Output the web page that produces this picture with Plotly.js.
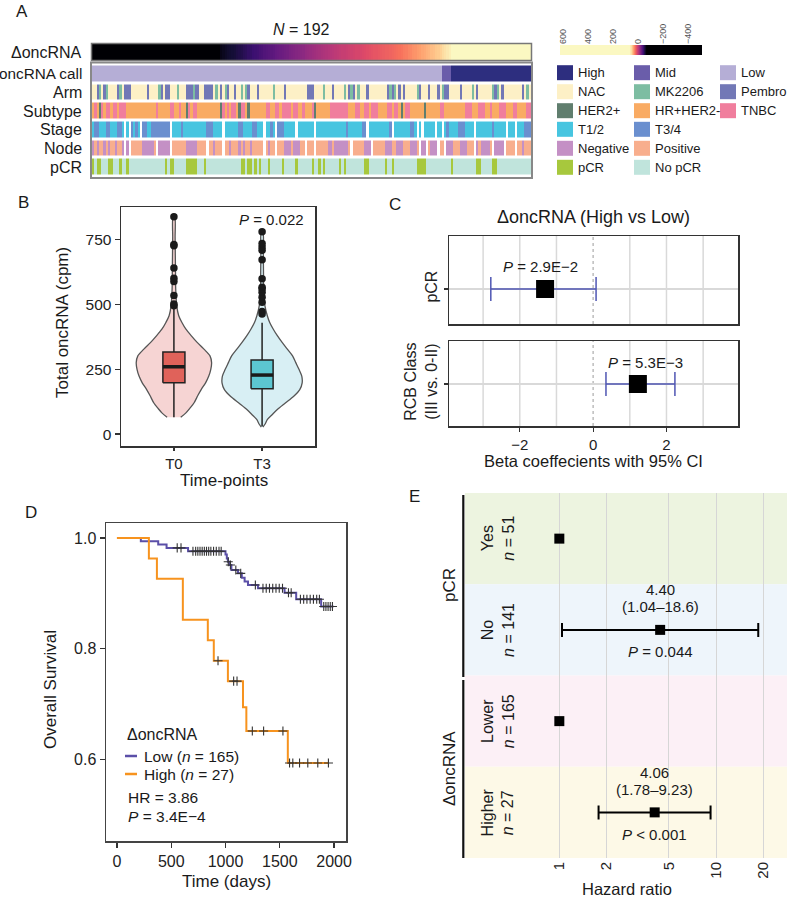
<!DOCTYPE html>
<html><head><meta charset="utf-8">
<script src="https://cdn.plot.ly/plotly-3.0.1.min.js"></script>
<style>html,body{margin:0;padding:0;background:#fff}#chart{width:787px;height:900px}</style>
</head><body><div id="chart"></div>
<script>
// ================= DATA =================
// Panel A: ΔoncRNA per sample (sorted), 192 samples
const deltaOnc = [
-512,-455,-410,-372,-340,-318,-297,-280,-265,-251,-238,-226,-215,-205,-196,-188,
-180,-173,-166,-160,-154,-149,-144,-139,-135,-131,-127,-123,-120,-117,-114,-111,
-108,-105,-103,-101,-99,-97,-95,-93,-91,-89,-87,-85,-84,-82,-81,-79,
-78,-76,-75,-73,-72,-71,-69,-67,
-60,-58,-56,-54,-53,
-52,-51,-49,-48,-47,-45,-44,-42,-41,-39,-38,-37,-35,-34,-32,
-31,-30,-29,-28,-26,-25,-24,-23,-22,-21,-19,-18,-17,-16,-15,-14,-13,-11,-10,-9,-8,-7,
-6,-5,-4,-3,-2,-1,0,1,2,3,4,5,5,6,7,8,9,10,10,11,12,13,14,
15,16,17,17,18,19,20,21,21,22,23,24,25,26,
27,29,30,32,33,35,36,38,
39,41,42,44,45,47,48,50,51,53,
56,58,60,62,
68,72,77,82,87,93,99,105,112,119,126,134,142,151,160,170,180,191,203,215,228,242,257,272,289,306,325,345,367,390,415,445,480,525,590];

// annotation rows, one char per sample ('_' = missing)
const callRow = ["LLLLLLLLLLLLLLLL","LLLLLLLLLLLLLLLL","LLLLLLLLLLLLLLLL","LLLLLLLLLLLLLLLL","LLLLLLLLLLLLLLLL","LLLLLLLLLLLLLLLL","LLLLLLLLLLLLLLLL","LLLLLLLLLLLLLLLL","LLLLLLLLLLLLLLLL","LLLLLLLLLMMMMHHH","HHHHHHHHHHHHHHHH","HHHHHHHHHHHHHHHH"];
const armRow = ["nnpmnpmnnnnpmnpp","pnnnnnnnpnnnnmpn","ppnnnmnnnpppmppn","nppppnmnpnmpnnpn","nmnmpnnnpnnnnnnm","nnnnpnnnnnnnnnpp","pnnnnmnnnpnnnnmn","pmpnmnnnpnnnnnnn","npmpmnpnpnnnnnmp","nnnpnnnpnmppnnnn","npnnnnmnpnnnnnnm","pmnpnnnnnnnnpnmn"];
const subtypeRow = ["rtrhtrttrttrtttr","rrrrrrrrrrrrtrrr","rrttrrtrrhtrttrr","rrrrrrrrhtrtrttr","httrhrrrrrrrttrr","ttrttttrttrrtrrr","thrrrrrrtttttttt","rrrttrrttrtttrrr","rttrttrhrttrrrrr","rhrrrrrrttrrrrrr","rrrtttrrrtttrrtr","rrtttrrrttrrrrtt"];
const stageRow = ["sbbsssbbsssbbs_s","_bsbs_bbssbbbbbb","bb_ssssbssssssss","ssbbbssss_ssssss","bbssssbbsss_ssbs","_bbbsssss_ssssss","s_sssssssssssssb","ssssssbb_sssssss","ssb_sssssssbbs_s","_sssss_ss_sbssss","bbbssss_sssssssb","sssss_sss_sssbbb"];
const nodeRow = ["gogoogogoogoog_g","_ooooogggggo_ggg","gg_oooooogggggoo","oo_oogooo_oogooo","gogoogooooo_ogoo","_ooogggogggoo_oo","o_oooooggogggggg","o_oooooggg_ooooo","gggoogggooogggo_","gg_oggg_oo_gggoo","ogggooo_goggggo_","gggg_oooo_oogooo"];
const pcrRow = ["ynyynnnyynnnynny","nnnnnnnnnnnnnnnn","ynyynnnnnyyyyynn","nynnnnnnnnnnnnnn","nyynyynynynnnynn","nnnynnnnnynnnnnn","ynnynynnnnnnynyn","nnnnnnnyynnnnnnn","ynnynnnnnnnnnnyy","yynnnnnnnnnnnynn","nnnnnnnnyynnnnny","ynnnnnnnnnnnnnnn"];
const rowLabels = ["ΔoncRNA","oncRNA call","Arm","Subtype","Stage","Node","pCR"];
const catNames = ["Low","Mid","High","NAC","MK2206","Pembro","HER2+","HR+HER2-","TNBC","T1/2","T3/4","Negative","Positive","pCR","No pCR"];
const catColors = ["#B5AED6","#6A5DAA","#2D2E7F","#FDF0C6","#7DBDA2","#7278B6","#607E6E","#F9AB63","#F07E9D","#47C5E0","#6A8FCF","#C490C5","#F8AE8D","#A7C83D","#C0E4DC"];
const rowCodeMaps = [{L:0,M:1,H:2},{n:3,m:4,p:5},{h:6,r:7,t:8},{s:9,b:10},{g:11,o:12},{y:13,n:14}];
const legendGrid = [[2,1,0],[3,4,5],[6,7,8],[9,10],[11,12],[13,14]];
const cbTicks = [600,400,200,0,-200,-400];
const cbTickText = ["600","400","200","0","−200","−400"];

// Panel B: violin outlines (value, relative width), box stats, outliers
const bCats = ["T0","T3"];
const violinVals = [
  [65,82,100,120,150,172,198,224,250,276,302,328,354,380,405,431,457,496,560,625,690,760,839],
  [27,40,56,75,95,120,146,172,198,224,250,276,302,328,354,380,405,431,457,496,560,625,700,781]];
const violinDens = [
  [0.17,0.30,0.40,0.50,0.60,0.68,0.79,0.87,0.92,0.94,0.90,0.75,0.58,0.43,0.30,0.20,0.12,0.07,0.045,0.04,0.035,0.03,0.02],
  [0.02,0.08,0.13,0.25,0.38,0.58,0.79,0.94,1.0,0.99,0.92,0.84,0.76,0.63,0.50,0.38,0.28,0.19,0.13,0.07,0.04,0.035,0.03,0.02]];
const boxQ1 = [198,175], boxMed = [260,228], boxQ3 = [317,286], boxLo = [65,30], boxHi = [495,430];
const outliers = [[496,502,535,589,602,641,727,732,839],[464,473,509,528,548,561,567,600,673,710,723,736,781]];

// Panel C: logistic regression betas
const cRows = ["pCR","RCB Class<br>(III vs. 0-II)"];
const cBeta = [-1.31, 1.22], cLo = [-2.79, 0.35], cHi = [0.08, 2.23];
const cP = ["2.9E−2","5.3E−3"];
const cGrid = [-3,-2,-1,1,2,3];

// Panel D: Kaplan–Meier
const lowT = [0,220,380,457,655,1000,1012,1022,1035,1054,1115,1150,1176,1207,1299,1544,1651,1881,1995];
const lowS = [1,0.994,0.988,0.982,0.976,0.970,0.963,0.957,0.951,0.942,0.936,0.928,0.921,0.915,0.909,0.901,0.889,0.876,0.876];
const lowCens = [555,590,700,725,745,765,785,805,825,845,865,890,915,940,960,1025,1045,1095,1140,1275,1345,1375,1405,1435,1465,1495,1525,1580,1605,1690,1720,1750,1780,1810,1840,1865,1905,1925,1945,1965,1985];
const highT = [0,294,368,607,837,892,1022,1161,1192,1574,1948];
const highS = [1,0.963,0.926,0.852,0.815,0.778,0.741,0.694,0.651,0.593,0.593];
const highCens = [931,1075,1106,1247,1351,1529,1590,1620,1682,1758,1850,1948];

// Panel E: Cox forest
const eGroups = ["pCR","ΔoncRNA"];
const eRows = ["Yes","No","Lower","Higher"];
const eN = [51,141,165,27];
const eHR = [1,4.40,1,4.06];
const eLo = [null,1.04,null,1.78];
const eHi = [null,18.6,null,9.23];
const eP = ["","= 0.044","","< 0.001"];
const eBand = ["#EDF4E0","#EEF5FB","#FCF0F6","#FDF9E7"];

// ================= HELPERS =================
const FONT = "Liberation Sans, Arial, Helvetica, sans-serif";
const W = 787, H = 900;
const fx = p => p / W, fy = p => 1 - p / H;
const dX = (a, b) => [fx(a), fx(b)];
const dY = (top, bot) => [fy(bot), fy(top)];
const TXT = "#1a1a1a";
function ann(text, x, y, o) {
  o = o || {};
  return Object.assign({text, x: fx(x), y: fy(y), xref: "paper", yref: "paper", showarrow: false,
    font: {family: FONT, size: o.size || 15, color: o.color || TXT},
    xanchor: o.xa || "center", yanchor: o.ya || "middle", textangle: o.angle || 0}, o.extra || {});
}
function bare(domain, extra) {
  return Object.assign({domain, showgrid: false, zeroline: false, showline: false, ticks: "",
    showticklabels: false, fixedrange: true, automargin: false}, extra || {});
}
const magma = [[0,"#000004"],[0.1,"#140e36"],[0.2,"#3b0f70"],[0.3,"#641a80"],[0.4,"#8c2981"],[0.5,"#b73779"],[0.6,"#de4968"],[0.7,"#f7705c"],[0.8,"#fe9f6d"],[0.9,"#fecf92"],[1,"#fbf8c2"]];
const ZMIN = -65, ZMAX = 65;

const traces = [], shapes = [], annotations = [];

// ================= PANEL A =================
const nS = deltaOnc.length;
const cols = deltaOnc.map((_, i) => i);
traces.push({type: "heatmap", z: [deltaOnc], x: cols, y: [0], colorscale: magma, zmin: ZMIN, zmax: ZMAX,
  showscale: false, hoverinfo: "skip", xaxis: "x", yaxis: "y"});
const annRows = [callRow, armRow, subtypeRow, stageRow, nodeRow, pcrRow];
const zAnn = annRows.map((r, k) => r.join("").split("").map(ch => ch === "_" ? null : rowCodeMaps[k][ch]));
const NC = catColors.length;
const disc = [];
catColors.forEach((c, i) => { disc.push([i / NC, c]); disc.push([(i + 1) / NC, c]); });
traces.push({type: "heatmap", z: zAnn, x: cols, y: [0,1,2,3,4,5], colorscale: disc, zmin: -0.5, zmax: NC - 0.5,
  showscale: false, ygap: 3, hoverinfo: "skip", xaxis: "x2", yaxis: "y2"});
// gradient key strip
const cbX = [];
for (let v = 624; v >= -512; v -= 4) cbX.push(v);
traces.push({type: "heatmap", z: [cbX], x: cbX, y: [0], colorscale: magma, zmin: ZMIN, zmax: ZMAX,
  showscale: false, hoverinfo: "skip", xaxis: "x3", yaxis: "y3"});

shapes.push({type: "rect", xref: "paper", yref: "paper", x0: fx(91.5), x1: fx(531.5), y0: fy(43.5), y1: fy(60.5), line: {color: "#777", width: 1.5}});
shapes.push({type: "rect", xref: "paper", yref: "paper", x0: fx(91), x1: fx(532), y0: fy(62.5), y1: fy(178), line: {color: "#888", width: 2}});

annotations.push(ann("A", 22, 11, {size: 17}));
annotations.push(ann("<i>N</i> = 192", 301, 30, {size: 16}));
const rowY = [52, 73.8, 92.5, 111.2, 129.8, 148.5, 167.2];
rowLabels.forEach((t, i) => annotations.push(ann(t, 84, rowY[i], {size: t.length > 10 ? 15.3 : 16, xa: "right"})));
const legX = [557, 634, 720], legY = [72.7, 91.7, 110.7, 129.3, 148.3, 167.3];
legendGrid.forEach((row, r) => row.forEach((code, c) => {
  shapes.push({type: "rect", xref: "paper", yref: "paper", x0: fx(legX[c]), x1: fx(legX[c] + 16),
    y0: fy(legY[r] + 7.5), y1: fy(legY[r] - 7.5), fillcolor: catColors[code], line: {width: 0}});
  annotations.push(ann(catNames[code], legX[c] + 19, legY[r], {size: 13, xa: "left"}));
}));

// ================= PANEL B =================
const VW = 40 / 88, BW = 0.125;
const vFill = ["#F6D4D3", "#D8EFF4"], bFill = ["#E0625A", "#5CC6D1"];
bCats.forEach((cat, c) => {
  const v = violinVals[c], d = violinDens[c];
  const xs = v.map((_, i) => c + d[i] * VW).concat(v.slice().reverse().map((_, i) => c - d[v.length - 1 - i] * VW));
  const ys = v.concat(v.slice().reverse());
  traces.push({type: "scatter", mode: "lines", x: xs, y: ys, fill: "toself", fillcolor: vFill[c],
    line: {color: "#555", width: 1.3, shape: "spline", smoothing: 0.8}, hoverinfo: "skip", xaxis: "x4", yaxis: "y4"});
});
bCats.forEach((cat, c) => {
  traces.push({type: "scatter", mode: "lines", x: [c, c, null, c, c], y: [boxQ3[c], boxHi[c], null, boxQ1[c], boxLo[c]],
    line: {color: "#222", width: 1.5}, hoverinfo: "skip", xaxis: "x4", yaxis: "y4"});
  traces.push({type: "scatter", mode: "lines", x: [c - BW, c + BW, c + BW, c - BW, c - BW],
    y: [boxQ1[c], boxQ1[c], boxQ3[c], boxQ3[c], boxQ1[c]], fill: "toself", fillcolor: bFill[c],
    line: {color: "#222", width: 1.5}, hoverinfo: "skip", xaxis: "x4", yaxis: "y4"});
  traces.push({type: "scatter", mode: "lines", x: [c - BW, c + BW], y: [boxMed[c], boxMed[c]],
    line: {color: "#1a1a1a", width: 3.5}, hoverinfo: "skip", xaxis: "x4", yaxis: "y4"});
  traces.push({type: "scatter", mode: "markers", x: outliers[c].map(() => c), y: outliers[c],
    marker: {color: "#1a1a1a", size: 7.5}, hoverinfo: "skip", xaxis: "x4", yaxis: "y4"});
});
annotations.push(ann("B", 23, 202, {size: 17}));
annotations.push(ann("<i>P</i> = 0.022", 306, 219, {size: 15, xa: "right"}));
annotations.push(ann("Total oncRNA (cpm)", 63, 323, {size: 17, angle: -90}));
annotations.push(ann("Time-points", 224, 480, {size: 17}));

// ================= PANEL C =================
cRows.forEach((r, i) => {
  const xa = i === 0 ? "x5" : "x6", ya = i === 0 ? "y5" : "y6";
  cGrid.forEach(g => shapes.push({type: "line", xref: xa, yref: ya + " domain", x0: g, x1: g, y0: 0, y1: 1,
    line: {color: "#D9D9D9", width: 1.5}, layer: "below"}));
  shapes.push({type: "line", xref: xa, yref: ya + " domain", x0: 0, x1: 0, y0: 0, y1: 1,
    line: {color: "#BDBDBD", width: 1.5, dash: "dot"}, layer: "below"});
  traces.push({type: "scatter", mode: "markers", x: [cBeta[i]], y: [0],
    marker: {symbol: "square", size: 18, color: "#000"},
    error_x: {type: "data", symmetric: false, array: [cHi[i] - cBeta[i]], arrayminus: [cBeta[i] - cLo[i]],
      color: "#4F56B3", thickness: 1.5, width: 12},
    hoverinfo: "skip", xaxis: xa, yaxis: ya});
  annotations.push({text: "<i>P</i> = " + cP[i], x: cBeta[i], y: i === 0 ? 0.26 : 0.25, xref: xa, yref: ya,
    showarrow: false, xshift: i === 0 ? -5 : 8, font: {family: FONT, size: 15, color: TXT}});
});
annotations.push(ann("C", 395, 205, {size: 17}));
annotations.push(ann("ΔoncRNA (High vs Low)", 593, 217, {size: 18}));
annotations.push(ann("Beta coeffecients with 95% CI", 593, 461, {size: 16.5}));

// ================= PANEL D =================
function survAt(T, S, t) { let s = S[0]; for (let i = 0; i < T.length; i++) if (T[i] <= t) s = S[i]; return s; }
traces.push({type: "scatter", mode: "lines", x: lowT, y: lowS, line: {color: "#5B4FA8", width: 2, shape: "hv"},
  hoverinfo: "skip", xaxis: "x7", yaxis: "y7"});
traces.push({type: "scatter", mode: "lines", x: highT, y: highS, line: {color: "#F7931E", width: 2, shape: "hv"},
  hoverinfo: "skip", xaxis: "x7", yaxis: "y7"});
traces.push({type: "scatter", mode: "markers", x: lowCens.concat(highCens),
  y: lowCens.map(t => survAt(lowT, lowS, t)).concat(highCens.map(t => survAt(highT, highS, t))),
  marker: {symbol: "cross-thin", size: 6.5, line: {color: "#333", width: 1.1}}, hoverinfo: "skip", xaxis: "x7", yaxis: "y7"});
annotations.push(ann("D", 31, 512, {size: 17}));
annotations.push(ann("Overall Survival", 50, 690, {size: 17, angle: -90}));
annotations.push(ann("Time (days)", 226, 881, {size: 17}));
annotations.push(ann("ΔoncRNA", 125, 734, {size: 16, xa: "left"}));
annotations.push(ann("Low (<i>n</i> = 165)", 142, 756, {size: 15.5, xa: "left"}));
annotations.push(ann("High (<i>n</i> = 27)", 142, 774, {size: 15.5, xa: "left"}));
annotations.push(ann("HR = 3.86", 126, 797, {size: 15.5, xa: "left"}));
annotations.push(ann("<i>P</i> = 3.4E−4", 126, 816, {size: 15.5, xa: "left"}));
shapes.push({type: "line", xref: "paper", yref: "paper", x0: fx(125), x1: fx(137), y0: fy(756), y1: fy(756), line: {color: "#5B4FA8", width: 2.5}});
shapes.push({type: "line", xref: "paper", yref: "paper", x0: fx(125), x1: fx(137), y0: fy(774), y1: fy(774), line: {color: "#F7931E", width: 2.5}});

// ================= PANEL E =================
const eY = eRows.map((_, i) => eRows.length - 0.5 - i);
eRows.forEach((r, i) => {
  shapes.push({type: "rect", xref: "x8 domain", yref: "y8", x0: 0, x1: 1, y0: eY[i] - 0.5, y1: eY[i] + 0.5,
    fillcolor: eBand[i], line: {width: 0}, layer: "below"});
});
shapes.push({type: "line", xref: "x8", yref: "y8", x0: 0, x1: 0, y0: 0, y1: 4, line: {color: "#111", width: 1.4, dash: "dot"}});
shapes.push({type: "line", xref: "paper", yref: "paper", x0: fx(463.3), x1: fx(463.3), y0: fy(495), y1: fy(677), line: {color: "#111", width: 2.2}});
shapes.push({type: "line", xref: "paper", yref: "paper", x0: fx(463.3), x1: fx(463.3), y0: fy(680), y1: fy(858), line: {color: "#111", width: 2.2}});
const refIdx = eRows.map((_, i) => i).filter(i => eLo[i] === null);
const effIdx = eRows.map((_, i) => i).filter(i => eLo[i] !== null);
traces.push({type: "scatter", mode: "markers", x: refIdx.map(i => eHR[i]), y: refIdx.map(i => eY[i]),
  marker: {symbol: "square", size: 10, color: "#000"}, hoverinfo: "skip", xaxis: "x8", yaxis: "y8"});
traces.push({type: "scatter", mode: "markers", x: effIdx.map(i => eHR[i]), y: effIdx.map(i => eY[i]),
  marker: {symbol: "square", size: 10, color: "#000"},
  error_x: {type: "data", symmetric: false, array: effIdx.map(i => eHi[i] - eHR[i]), arrayminus: effIdx.map(i => eHR[i] - eLo[i]),
    color: "#000", thickness: 2, width: 7},
  hoverinfo: "skip", xaxis: "x8", yaxis: "y8"});
effIdx.forEach(i => {
  const lx = Math.log10(eHR[i]);
  const base = {xref: "x8", yref: "y8", showarrow: false, x: lx, font: {family: FONT, size: 15, color: TXT}};
  annotations.push(Object.assign({}, base, {text: eHR[i].toFixed(2), y: eY[i] + 0.44}));
  annotations.push(Object.assign({}, base, {text: "(" + eLo[i] + "–" + eHi[i] + ")", y: eY[i] + 0.255}));
  annotations.push(Object.assign({}, base, {text: "<i>P</i> " + eP[i], y: eY[i] - 0.24}));
});
eRows.forEach((r, i) => {
  annotations.push(ann(r + "<br><i>n</i> = " + eN[i], 498, 493 + (i + 0.5) * 91.25, {size: 16, angle: -90}));
});
annotations.push(ann(eGroups[0], 449, 585, {size: 17, angle: -90}));
annotations.push(ann(eGroups[1], 449, 769, {size: 17, angle: -90}));
annotations.push(ann("E", 414, 496, {size: 17}));
annotations.push(ann("Hazard ratio", 627, 889, {size: 16.5}));

// ================= LAYOUT =================
const tickF = {family: FONT, size: 15.5, color: "#222"};
const boxAx = {showline: true, mirror: true, linecolor: "#333", linewidth: 1.5, ticks: "outside", ticklen: 5,
  tickcolor: "#333", tickwidth: 1.2, showticklabels: true, tickfont: tickF};
const layout = {
  width: W, height: H, margin: {l: 0, r: 0, t: 0, b: 0}, paper_bgcolor: "#fff", plot_bgcolor: "rgba(0,0,0,0)",
  showlegend: false, font: {family: FONT, color: TXT},
  xaxis: bare(dX(92, 531), {anchor: "y", range: [-0.5, nS - 0.5]}),
  yaxis: bare(dY(44, 60), {anchor: "x", range: [-0.5, 0.5]}),
  xaxis2: bare(dX(92, 531), {anchor: "y2", range: [-0.5, nS - 0.5]}),
  yaxis2: bare(dY(64.5, 176.5), {anchor: "x2", range: [5.5, -0.5]}),
  xaxis3: bare(dX(560, 702), {anchor: "y3", range: [624, -512], side: "top", showticklabels: true,
    tickvals: cbTicks, ticktext: cbTickText, tickangle: -90, tickfont: {family: FONT, size: 9, color: "#555"}}),
  yaxis3: bare(dY(45, 55), {anchor: "x3", range: [-0.5, 0.5]}),
  xaxis4: bare(dX(121, 315), Object.assign({}, boxAx, {anchor: "y4", range: [-0.6, 1.6], tickvals: [0, 1], ticktext: bCats, ticklen: 3,
    tickfont: {family: FONT, size: 15, color: "#222"}})),
  yaxis4: bare(dY(207, 446), Object.assign({}, boxAx, {anchor: "x4", range: [-46, 877], tickvals: [0, 250, 500, 750]})),
  xaxis5: bare(dX(449, 738), {anchor: "y5", range: [-3.93, 3.95], showline: true, mirror: true, linecolor: "#333", linewidth: 1.5}),
  yaxis5: bare(dY(236, 324), Object.assign({}, boxAx, {anchor: "x5", range: [-0.398, 0.602], tickvals: [0], ticktext: [cRows[0]],
    tickangle: -90, ticklen: 4, showgrid: true, gridcolor: "#D9D9D9", gridwidth: 1.5, tickfont: {family: FONT, size: 16, color: "#222"}})),
  xaxis6: bare(dX(449, 738), Object.assign({}, boxAx, {anchor: "y6", range: [-3.93, 3.95], tickvals: [-2, 0, 2], ticktext: ["−2", "0", "2"],
    ticklen: 4, tickfont: {family: FONT, size: 15, color: "#222"}})),
  yaxis6: bare(dY(341, 426), Object.assign({}, boxAx, {anchor: "x6", range: [-0.494, 0.506], tickvals: [0], ticktext: [cRows[1]],
    tickangle: -90, ticklen: 4, showgrid: true, gridcolor: "#D9D9D9", gridwidth: 1.5, tickfont: {family: FONT, size: 16, color: "#222"}})),
  xaxis7: bare(dX(106, 346), Object.assign({}, boxAx, {anchor: "y7", range: [-101, 2110], tickvals: [0, 500, 1000, 1500, 2000],
    linecolor: "#444", tickfont: {family: FONT, size: 16, color: "#222"}})),
  yaxis7: bare(dY(523, 841), Object.assign({}, boxAx, {anchor: "x7", range: [0.452, 1.027], tickvals: [0.6, 0.8, 1.0],
    ticktext: ["0.6", "0.8", "1.0"], linecolor: "#444", tickfont: {family: FONT, size: 16, color: "#222"}})),
  xaxis8: bare(dX(465, 787), {anchor: "y8", type: "log", range: [-0.602, 1.453], tickvals: [1, 2, 5, 10, 20], ticktext: ["1", "2", "5", "10", "20"],
    showticklabels: true, tickangle: -90, showgrid: true, gridcolor: "#D6D6D6", gridwidth: 1, tickfont: {family: FONT, size: 15, color: "#222"}}),
  yaxis8: bare(dY(493, 858), {anchor: "x8", range: [0, 4]}),
  shapes, annotations
};
Plotly.newPlot("chart", traces, layout, {staticPlot: true, displayModeBar: false});
</script></body></html>
